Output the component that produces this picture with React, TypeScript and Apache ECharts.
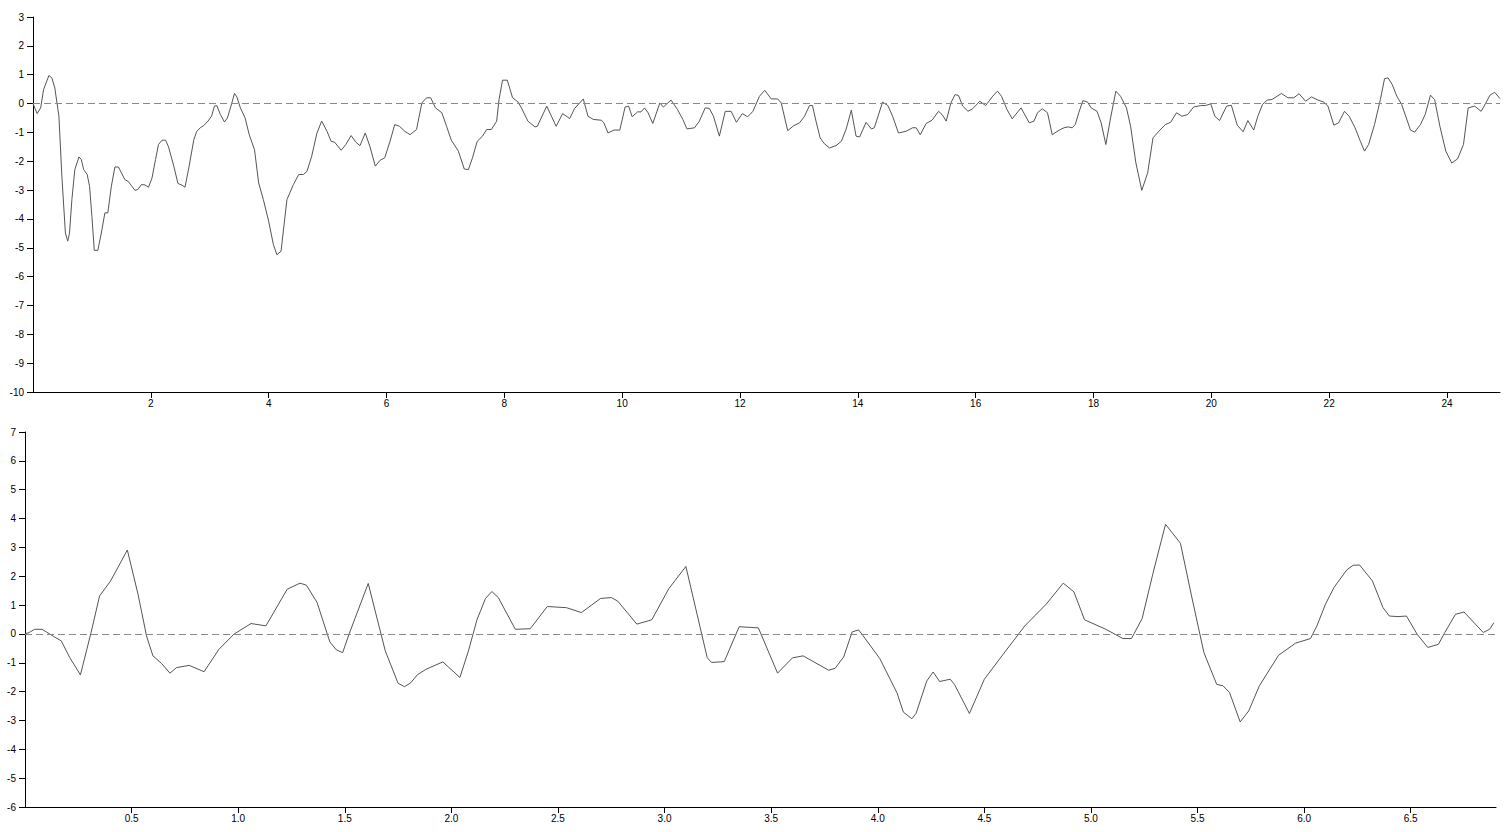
import React, { useEffect, useRef } from "react";
import * as echarts from "echarts";

// Top panel: [x, value]
const topSeries: [number, number][] = [
  [0, 0], [0.07, -0.35], [0.13, -0.15], [0.18, 0.49], [0.27, 0.97], [0.32, 0.89], [0.37, 0.54], [0.44, -0.44],
  [0.49, -2.52], [0.55, -4.49], [0.59, -4.77], [0.62, -4.49], [0.66, -3.33], [0.71, -2.29], [0.78, -1.85],
  [0.82, -1.94], [0.86, -2.29], [0.92, -2.46], [0.96, -2.87], [1.0, -3.91], [1.04, -5.09], [1.1, -5.09],
  [1.16, -4.49], [1.22, -3.79], [1.27, -3.79], [1.33, -2.87], [1.39, -2.2], [1.45, -2.2], [1.56, -2.64],
  [1.61, -2.69], [1.67, -2.84], [1.73, -3.01], [1.78, -2.98], [1.84, -2.81], [1.9, -2.82], [1.96, -2.9],
  [2.02, -2.58], [2.08, -1.94], [2.13, -1.42], [2.19, -1.27], [2.25, -1.27], [2.3, -1.5], [2.39, -2.17],
  [2.46, -2.77], [2.53, -2.83], [2.58, -2.9], [2.65, -2.17], [2.73, -1.25], [2.78, -0.96], [2.84, -0.84],
  [2.9, -0.76], [2.97, -0.61], [3.03, -0.44], [3.08, -0.09], [3.12, -0.07], [3.18, -0.38], [3.25, -0.64],
  [3.3, -0.5], [3.36, -0.09], [3.42, 0.35], [3.46, 0.23], [3.52, -0.15], [3.6, -0.5], [3.67, -1.08],
  [3.76, -1.6], [3.83, -2.75], [3.91, -3.33], [4.0, -4.08], [4.08, -4.89], [4.14, -5.24], [4.21, -5.12],
  [4.31, -3.33], [4.42, -2.81], [4.51, -2.46], [4.59, -2.46], [4.65, -2.35], [4.73, -1.83], [4.82, -1.02],
  [4.9, -0.61], [4.99, -0.96], [5.06, -1.31], [5.12, -1.34], [5.23, -1.62], [5.31, -1.42], [5.4, -1.11],
  [5.48, -1.34], [5.55, -1.46], [5.64, -1.02], [5.72, -1.5], [5.81, -2.17], [5.89, -1.97], [5.97, -1.88],
  [6.06, -1.31], [6.14, -0.73], [6.22, -0.79], [6.31, -0.96], [6.4, -1.08], [6.51, -0.9], [6.6, 0.02],
  [6.68, 0.2], [6.75, 0.2], [6.83, -0.15], [6.94, -0.32], [7.02, -0.79], [7.1, -1.27], [7.22, -1.65],
  [7.32, -2.27], [7.39, -2.29], [7.46, -1.88], [7.54, -1.31], [7.63, -1.13], [7.7, -0.9], [7.78, -0.9],
  [7.87, -0.61], [7.91, 0.14], [7.97, 0.81], [8.05, 0.81], [8.14, 0.2], [8.23, 0.06], [8.29, -0.15],
  [8.4, -0.61], [8.52, -0.81], [8.56, -0.79], [8.72, -0.09], [8.88, -0.79], [8.99, -0.35], [9.11, -0.52],
  [9.19, -0.18], [9.34, 0.16], [9.42, -0.44], [9.51, -0.55], [9.65, -0.58], [9.69, -0.67], [9.76, -1.02],
  [9.86, -0.92], [9.96, -0.92], [10.05, -0.12], [10.11, -0.09], [10.17, -0.46], [10.26, -0.29], [10.32, -0.29],
  [10.38, -0.15], [10.44, -0.32], [10.52, -0.69], [10.64, 0.02], [10.7, -0.12], [10.83, 0.12], [10.94, -0.21],
  [11.03, -0.55], [11.1, -0.88], [11.23, -0.84], [11.31, -0.61], [11.41, -0.15], [11.48, -0.17], [11.55, -0.44],
  [11.65, -1.13], [11.75, -0.27], [11.85, -0.27], [11.94, -0.65], [12.04, -0.35], [12.13, -0.46], [12.22, -0.27],
  [12.33, 0.25], [12.42, 0.46], [12.53, 0.16], [12.64, 0.16], [12.7, 0.02], [12.81, -0.94], [12.91, -0.77],
  [13.01, -0.67], [13.09, -0.46], [13.18, -0.07], [13.23, -0.07], [13.29, -0.61], [13.36, -1.19], [13.43, -1.39],
  [13.52, -1.54], [13.63, -1.46], [13.72, -1.31], [13.8, -0.9], [13.89, -0.23], [13.97, -1.13], [14.03, -1.16],
  [14.14, -0.65], [14.23, -0.88], [14.28, -0.84], [14.42, 0.05], [14.51, -0.07], [14.59, -0.44], [14.69, -1.02],
  [14.82, -0.96], [14.93, -0.84], [14.99, -0.84], [15.06, -1.08], [15.16, -0.69], [15.26, -0.58], [15.37, -0.27],
  [15.43, -0.38], [15.5, -0.61], [15.58, 0.02], [15.65, 0.31], [15.71, 0.28], [15.78, -0.09], [15.87, -0.27],
  [15.95, -0.18], [16.07, 0.08], [16.17, -0.07], [16.28, 0.23], [16.37, 0.43], [16.44, 0.25], [16.53, -0.2],
  [16.62, -0.53], [16.77, -0.15], [16.91, -0.67], [16.99, -0.61], [17.05, -0.32], [17.13, -0.18], [17.22, -0.32],
  [17.3, -1.08], [17.42, -0.92], [17.5, -0.84], [17.57, -0.81], [17.64, -0.84], [17.69, -0.73], [17.75, -0.32],
  [17.82, 0.1], [17.9, 0.05], [17.96, -0.15], [18.06, -0.27], [18.13, -0.67], [18.21, -1.42], [18.29, -0.5],
  [18.38, 0.43], [18.46, 0.25], [18.56, -0.15], [18.63, -0.79], [18.72, -2.06], [18.82, -3.01], [18.92, -2.4],
  [19.01, -1.19], [19.11, -0.96], [19.22, -0.73], [19.31, -0.65], [19.41, -0.32], [19.5, -0.44], [19.6, -0.38],
  [19.7, -0.12], [19.82, -0.07], [19.9, -0.07], [19.99, -0.01], [20.06, -0.44], [20.14, -0.59], [20.26, -0.09],
  [20.34, -0.06], [20.44, -0.75], [20.54, -0.98], [20.62, -0.59], [20.72, -0.92], [20.79, -0.44], [20.87, -0.03],
  [20.95, 0.12], [21.03, 0.14], [21.19, 0.35], [21.3, 0.2], [21.4, 0.2], [21.49, 0.34], [21.6, 0.08],
  [21.7, 0.23], [21.81, 0.12], [21.91, 0.05], [21.98, -0.09], [22.08, -0.75], [22.16, -0.67], [22.26, -0.27],
  [22.34, -0.44], [22.44, -0.84], [22.53, -1.31], [22.6, -1.65], [22.67, -1.42], [22.77, -0.73], [22.87, 0.14],
  [22.94, 0.86], [23.0, 0.89], [23.07, 0.66], [23.15, 0.25], [23.23, -0.03], [23.3, -0.44], [23.38, -0.92],
  [23.45, -0.99], [23.55, -0.73], [23.63, -0.38], [23.72, 0.29], [23.79, 0.14], [23.88, -0.79], [23.98, -1.65],
  [24.08, -2.06], [24.18, -1.92], [24.28, -1.42], [24.36, -0.15], [24.47, -0.09], [24.58, -0.27], [24.66, 0.02],
  [24.73, 0.29], [24.81, 0.39], [24.9, 0.17],
];

// Bottom panel: [x, value]
const bottomSeries: [number, number][] = [
  [0, 0], [0.02, 0.05], [0.045, 0.16], [0.08, 0.16], [0.1, 0.07], [0.135, -0.09], [0.17, -0.24], [0.21, -0.82],
  [0.26, -1.42], [0.31, 0.05], [0.35, 1.32], [0.4, 1.82], [0.44, 2.36], [0.48, 2.91], [0.53, 1.38], [0.57, -0.07],
  [0.6, -0.76], [0.64, -1.02], [0.68, -1.36], [0.71, -1.17], [0.77, -1.09], [0.84, -1.31], [0.91, -0.53],
  [0.98, -0.01], [1.06, 0.36], [1.13, 0.28], [1.23, 1.55], [1.29, 1.76], [1.32, 1.69], [1.37, 1.09],
  [1.43, -0.28], [1.46, -0.55], [1.49, -0.65], [1.52, -0.01], [1.61, 1.75], [1.69, -0.59], [1.75, -1.71],
  [1.78, -1.83], [1.81, -1.69], [1.84, -1.42], [1.88, -1.23], [1.96, -0.97], [2.04, -1.51], [2.08, -0.59],
  [2.12, 0.49], [2.16, 1.23], [2.19, 1.47], [2.22, 1.26], [2.3, 0.16], [2.37, 0.18], [2.45, 0.95], [2.54, 0.91],
  [2.61, 0.74], [2.7, 1.23], [2.75, 1.26], [2.78, 1.14], [2.87, 0.34], [2.94, 0.49], [3.02, 1.57], [3.1, 2.34],
  [3.2, -0.82], [3.22, -0.99], [3.28, -0.96], [3.35, 0.25], [3.44, 0.21], [3.53, -1.36], [3.6, -0.83],
  [3.65, -0.76], [3.77, -1.26], [3.8, -1.19], [3.84, -0.8], [3.88, 0.07], [3.91, 0.14], [3.93, -0.05],
  [4.01, -0.86], [4.09, -2.04], [4.12, -2.71], [4.16, -2.94], [4.18, -2.75], [4.23, -1.63], [4.26, -1.32],
  [4.29, -1.65], [4.34, -1.57], [4.36, -1.75], [4.43, -2.76], [4.5, -1.57], [4.6, -0.59], [4.69, 0.28],
  [4.79, 1.03], [4.87, 1.76], [4.92, 1.46], [4.97, 0.49], [5.07, 0.16], [5.15, -0.16], [5.19, -0.16],
  [5.24, 0.53], [5.29, 2.07], [5.33, 3.23], [5.35, 3.8], [5.42, 3.14], [5.47, 1.38], [5.53, -0.65],
  [5.59, -1.75], [5.62, -1.8], [5.65, -2.03], [5.7, -3.05], [5.74, -2.67], [5.79, -1.8], [5.88, -0.74],
  [5.96, -0.32], [6.03, -0.16], [6.06, 0.28], [6.1, 1.03], [6.14, 1.61], [6.2, 2.22], [6.23, 2.38], [6.26, 2.39],
  [6.32, 1.84], [6.37, 0.91], [6.4, 0.62], [6.44, 0.6], [6.48, 0.62], [6.53, -0.01], [6.58, -0.47],
  [6.63, -0.36], [6.66, 0.05], [6.71, 0.68], [6.75, 0.76], [6.84, 0.05], [6.87, 0.16], [6.89, 0.39],
];

const topXTicks = [2, 4, 6, 8, 10, 12, 14, 16, 18, 20, 22, 24];
const bottomXTicks = [0.5, 1, 1.5, 2, 2.5, 3, 3.5, 4, 4.5, 5, 5.5, 6, 6.5];
const topYRange = [-10, 3];
const bottomYRange = [-6, 7];
const topXMax = 24.9;
const bottomXMax = 6.9;
const baselineValue = 0;

const FONT = "Liberation Sans, Arial, sans-serif";

function xAxis(gridIndex: number, max: number, ticks: number[], fmt?: (v: number) => string) {
  return {
    type: "value",
    gridIndex,
    min: 0,
    max,
    splitLine: { show: false },
    axisLine: { show: true, onZero: false, lineStyle: { color: "#000", width: 1 } },
    axisTick: { show: true, length: 6, customValues: ticks, lineStyle: { color: "#000", width: 1 } },
    axisLabel: {
      customValues: ticks,
      fontSize: 10,
      color: "#000",
      fontFamily: FONT,
      margin: 6,
      formatter: fmt ? (v: number) => fmt(v) : (v: number) => String(v),
    },
  };
}

function yAxis(gridIndex: number, range: number[]) {
  return {
    type: "value",
    gridIndex,
    min: range[0],
    max: range[1],
    interval: 1,
    splitLine: { show: false },
    axisLine: { show: true, onZero: false, lineStyle: { color: "#000", width: 1 } },
    axisTick: { show: true, length: 6, lineStyle: { color: "#000", width: 1 } },
    axisLabel: { fontSize: 10, color: "#000", fontFamily: FONT, margin: 9 },
  };
}

function lineSeries(idx: number, data: [number, number][]) {
  return {
    type: "line",
    xAxisIndex: idx,
    yAxisIndex: idx,
    data,
    symbol: "none",
    showSymbol: false,
    smooth: false,
    lineStyle: { color: "#555", width: 1 },
    markLine: {
      silent: true,
      symbol: ["none", "none"],
      label: { show: false },
      lineStyle: { color: "#888", width: 1.2, type: [7, 4] },
      data: [{ yAxis: baselineValue }],
    },
  };
}

export default function App() {
  const ref = useRef<HTMLDivElement>(null);
  useEffect(() => {
    if (!ref.current) return;
    const chart = echarts.init(ref.current, undefined, { renderer: "svg" });
    chart.setOption({
      animation: false,
      backgroundColor: "#fff",
      grid: [
        { left: 33, top: 17, width: 1467, height: 375 },
        { left: 25, top: 432, width: 1471, height: 375 },
      ],
      xAxis: [
        xAxis(0, topXMax, topXTicks),
        xAxis(1, bottomXMax, bottomXTicks, (v) => v.toFixed(1)),
      ],
      yAxis: [yAxis(0, topYRange), yAxis(1, bottomYRange)],
      series: [lineSeries(0, topSeries), lineSeries(1, bottomSeries)],
    });
    return () => chart.dispose();
  }, []);
  return (
    <div
      ref={ref}
      style={{ position: "fixed", left: 0, top: 0, width: 1505, height: 832, background: "#fff" }}
    />
  );
}
